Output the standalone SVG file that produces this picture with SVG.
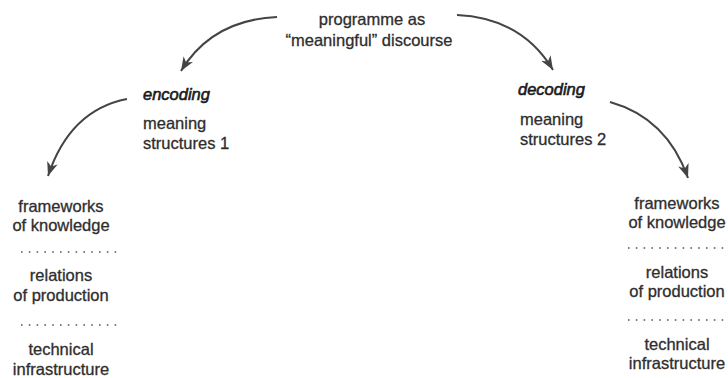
<svg xmlns="http://www.w3.org/2000/svg" width="728" height="378" viewBox="0 0 728 378">
<style>
text{font-family:"Liberation Sans",Arial,sans-serif;font-size:16.5px;fill:#2e2e2e;stroke:#2e2e2e;stroke-width:0.3}
.c{text-anchor:middle}
.i{font-style:italic;fill:#1a1a1a;stroke:#1a1a1a;stroke-width:0.6}
.arr{fill:none;stroke:#444;stroke-width:2;marker-end:url(#ah)}
.dot{stroke:#555;stroke-width:1.6;stroke-dasharray:1.6 6.2}
</style>
<defs>
<marker id="ah" markerUnits="userSpaceOnUse" markerWidth="16" markerHeight="14" refX="14" refY="6" orient="auto">
<path d="M0,0.5 L14,6 L0,11.5 L4,6 Z" fill="#444"/>
</marker>
</defs>
<rect width="728" height="378" fill="#fff"/>
<g id="connectors">
<path class="arr" d="M277,17 Q212,20 181,71"/>
<path class="arr" d="M457,15 Q522,18 553,70"/>
<path class="arr" d="M127,99 Q70,110 48,176"/>
<path class="arr" d="M610,102 Q667,118 688,178"/>
</g>
<g id="programme">
<text class="c" x="372" y="25">programme as</text>
<text class="c" x="369" y="46">“meaningful” discourse</text>
</g>
<g id="encoding">
<text class="i" x="143" y="100">encoding</text>
<text x="143" y="129">meaning</text>
<text x="143" y="149">structures 1</text>
</g>
<g id="decoding">
<text class="i" x="518" y="95">decoding</text>
<text x="520" y="125">meaning</text>
<text x="520" y="145">structures 2</text>
</g>
<g id="left-stack">
<text class="c" x="61" y="212">frameworks</text>
<text class="c" x="61" y="231">of knowledge</text>
<line class="dot" x1="21" y1="252" x2="118" y2="252"/>
<text class="c" x="61" y="281">relations</text>
<text class="c" x="61" y="301">of production</text>
<line class="dot" x1="21" y1="325" x2="118" y2="325"/>
<text class="c" x="61" y="355">technical</text>
<text class="c" x="61" y="375">infrastructure</text>
</g>
<g id="right-stack">
<text class="c" x="677" y="209">frameworks</text>
<text class="c" x="677" y="228">of knowledge</text>
<line class="dot" x1="628" y1="248" x2="728" y2="248"/>
<text class="c" x="677" y="278">relations</text>
<text class="c" x="677" y="297">of production</text>
<line class="dot" x1="628" y1="320" x2="728" y2="320"/>
<text class="c" x="677" y="350">technical</text>
<text class="c" x="677" y="369">infrastructure</text>
</g>
</svg>
